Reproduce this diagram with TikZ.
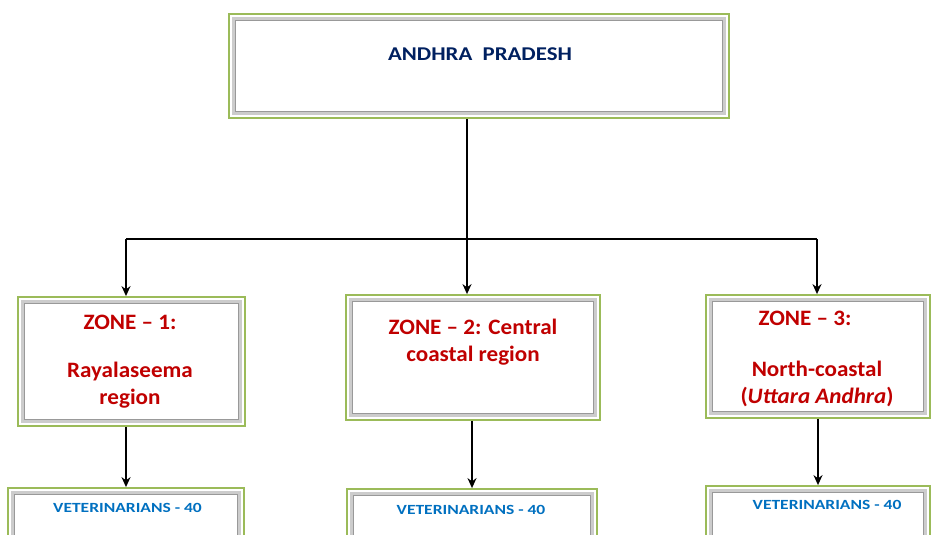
\documentclass[tikz,border=0pt]{standalone}
\usepackage{fontspec}
\setmainfont{Carlito}[Ligatures=TeX]
\newfontfamily\apfont{Carlito}[Ligatures=TeX, FakeStretch=1.17]
\newfontfamily\zonefont{Carlito}[Ligatures=TeX, FakeStretch=1.05]
\newfontfamily\vetfont{Carlito}[Ligatures=TeX, FakeStretch=1.25]
\usetikzlibrary{arrows.meta}
\definecolor{boxgreen}{RGB}{155,187,89}
\definecolor{apblue}{RGB}{0,32,96}
\definecolor{zonered}{RGB}{192,0,0}
\definecolor{vetblue}{RGB}{0,112,192}
\tikzstyle{framebox} = [rectangle,
draw=boxgreen,
line width=1.8pt,
fill=white,
inner sep=0pt,
path picture={
  \draw[gray!40, line width=4pt] ([shift={(4pt,4pt)}]path picture bounding box.south west) rectangle ([shift={(-4pt,-4pt)}]path picture bounding box.north east);
  \draw[gray!80, line width=0.8pt] ([shift={(6.2pt,6.2pt)}]path picture bounding box.south west) rectangle ([shift={(-6.2pt,-6.2pt)}]path picture bounding box.north east);
  \draw[white, line width=0.8pt] ([shift={(2.6pt,2.6pt)}]path picture bounding box.south west) rectangle ([shift={(-2.6pt,-2.6pt)}]path picture bounding box.north east);
}]
\tikzstyle{aptext} = [text=apblue, font=\apfont\bfseries\fontsize{19.5}{24}\selectfont, inner sep=0pt]
\tikzstyle{zonetext} = [text=zonered, font=\zonefont\bfseries\fontsize{22}{27}\selectfont, align=center, inner sep=0pt]
\tikzstyle{vettext} = [text=vetblue, font=\vetfont\bfseries\fontsize{14}{17}\selectfont, inner sep=0pt]
\tikzstyle{line} = [line width=1.6pt]
\tikzstyle{arrow} = [line width=1.6pt,-{Stealth[length=10pt,width=9pt]}]
\begin{document}
\begin{tikzpicture}[x=1pt, y=-1pt]
    \useasboundingbox (0,0) rectangle (931,535);
    \clip (0,0) rectangle (931,535);

    % state
    \node (ap) [framebox, minimum width=500pt, minimum height=104pt] at (479,66) {};
    \node (aptxt) [aptext] at (480,54) {ANDHRA~~PRADESH};

    % zones
    \node (z1) [framebox, minimum width=227pt, minimum height=129pt] at (131.5,361.5) {};
    \node (z1txt) [zonetext] at (130,362) {ZONE -- 1:\\[21pt]Rayalaseema\\region};
    \node (z2) [framebox, minimum width=254pt, minimum height=125pt] at (473,357.5) {};
    \node (z2txt) [zonetext] at (473,342) {ZONE -- 2: Central\\coastal region};
    \node (z3) [framebox, minimum width=224pt, minimum height=123pt] at (818,356.5) {};
    \node (z3txt) [zonetext] at (817,359) {ZONE -- 3:\hspace*{24pt}\\[24pt]North-coastal\\(\textit{Uttara Andhra})};

    % veterinarians
    \node (v1) [framebox, minimum width=236pt, minimum height=72pt] at (126,524) {};
    \node (v1txt) [vettext] at (127.5,508) {VETERINARIANS - 40};
    \node (v2) [framebox, minimum width=250pt, minimum height=71pt] at (472,524.5) {};
    \node (v2txt) [vettext] at (471,510) {VETERINARIANS - 40};
    \node (v3) [framebox, minimum width=224pt, minimum height=74pt] at (818,523) {};
    \node (v3txt) [vettext] at (827,505) {VETERINARIANS - 40};

    \coordinate (split) at (467,239);
    \coordinate (left) at (126,239);
    \coordinate (right) at (817,239);

    \draw [line] (ap.south -| split) -- (split);
    \draw [line] (left) -- (right);
    \draw [arrow] (left) -- (left |- z1.north);
    \draw [arrow] (split) -- (split |- z2.north);
    \draw [arrow] (right) -- (right |- z3.north);

    \draw [arrow] (v1.north |- z1.south) -- (v1.north);
    \draw [arrow] (v2.north |- z2.south) -- (v2.north);
    \draw [arrow] (v3.north |- z3.south) -- (v3.north);
\end{tikzpicture}
\end{document}
